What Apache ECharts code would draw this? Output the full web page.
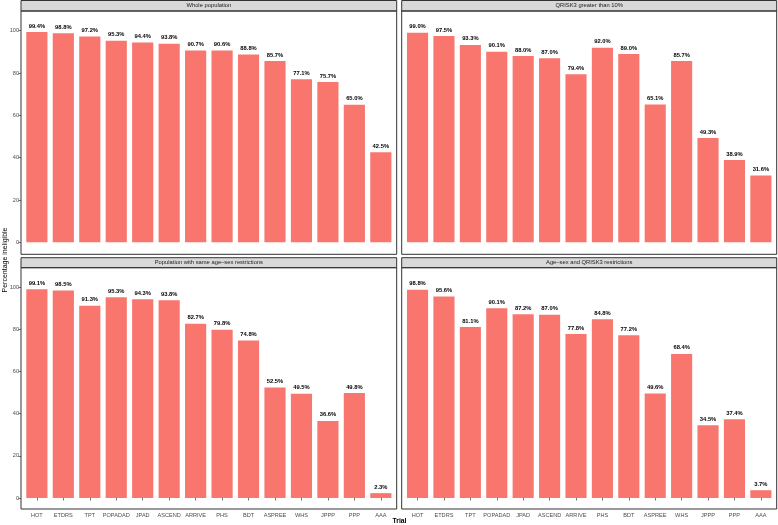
<!DOCTYPE html>
<html>
<head>
<meta charset="utf-8">
<script src="https://cdn.jsdelivr.net/npm/echarts@6/dist/echarts.min.js"></script>
<style>
  html, body { margin: 0; padding: 0; background: #fff; }
  #chart { width: 778px; height: 525px; }
</style>
</head>
<body>
<div id="chart"></div>
<script>
// categories and values
var trials = ['HOT', 'ETDRS', 'TPT', 'POPADAD', 'JPAD', 'ASCEND', 'ARRIVE', 'PHS', 'BDT', 'ASPREE', 'WHS', 'JPPP', 'PPP', 'AAA'];
var panelTitles = ['Whole population', 'QRISK3 greater than 10%', 'Population with same age\u2013sex restrictions', 'Age\u2013sex and QRISK3 restrictions'];
var wholePop = [99.4, 98.8, 97.2, 95.3, 94.4, 93.8, 90.7, 90.6, 88.8, 85.7, 77.1, 75.7, 65.0, 42.5];
var qrisk10 = [99.0, 97.5, 93.3, 90.1, 88.0, 87.0, 79.4, 92.0, 89.0, 65.1, 85.7, 49.3, 38.9, 31.6];
var ageSex = [99.1, 98.5, 91.3, 95.3, 94.3, 93.8, 82.7, 79.8, 74.8, 52.5, 49.5, 36.6, 49.8, 2.3];
var ageSexQrisk = [98.8, 95.6, 81.1, 90.1, 87.2, 87.0, 77.8, 84.8, 77.2, 49.6, 68.4, 34.5, 37.4, 3.7];
var yTitle = 'Percentage ineligible';
var xTitle = 'Trial';

var FONT = '"Liberation Sans", Arial, Helvetica, sans-serif';
var barColor = '#F8766D';

// panel frames (ggplot facet layout), in px
var cols = [{ x0: 21, x1: 396.7 }, { x0: 401.7, x1: 776.7 }];
var rows = [
  { s0: 0.5, s1: 11, p1: 254.3, y100: 30.7, y0: 242.3 },
  { s0: 257.7, s1: 267.7, p1: 509, y100: 287.3, y0: 498 }
];
var panelData = [wholePop, qrisk10, ageSex, ageSexQrisk];

var grids = [], xAxes = [], yAxes = [], series = [], graphics = [];

panelData.forEach(function (vals, i) {
  var r = rows[Math.floor(i / 2)], c = cols[i % 2];
  var isBottom = i >= 2, isLeft = i % 2 === 0;
  var w = c.x1 - c.x0;
  var band = w / 14.2; // discrete axis expanded by 0.6 each side
  grids.push({
    left: c.x0 + band * 0.1,
    width: band * 14,
    top: r.y100,
    height: r.y0 - r.y100
  });
  xAxes.push({
    type: 'category',
    gridIndex: i,
    data: trials,
    offset: r.p1 - r.y0,
    axisLine: { show: false },
    axisTick: { show: isBottom, alignWithLabel: true, length: 2.5, lineStyle: { color: '#333', width: 0.7 } },
    axisLabel: { show: isBottom, interval: 0, margin: 3, fontSize: 5.6, color: '#4D4D4D', fontFamily: FONT },
    splitLine: { show: false }
  });
  yAxes.push({
    type: 'value',
    gridIndex: i,
    min: 0,
    max: 100,
    interval: 20,
    offset: band * 0.1,
    axisLine: { show: false },
    axisTick: { show: isLeft, length: 2.5, lineStyle: { color: '#333', width: 0.7 } },
    axisLabel: { show: isLeft, margin: 2, fontSize: 5.6, color: '#4D4D4D', fontFamily: FONT },
    splitLine: { show: false }
  });
  series.push({
    type: 'bar',
    xAxisIndex: i,
    yAxisIndex: i,
    data: vals,
    barWidth: '80%',
    itemStyle: { color: barColor },
    label: {
      show: true,
      position: 'top',
      distance: 3,
      fontSize: 5.8,
      fontWeight: 'bold',
      color: '#000',
      fontFamily: FONT,
      formatter: function (p) { return p.value.toFixed(1) + '%'; }
    },
    silent: true,
    animation: false
  });
  // strip
  graphics.push({
    type: 'rect',
    shape: { x: c.x0, y: r.s0, width: w, height: r.s1 - r.s0 },
    style: { fill: '#D9D9D9', stroke: '#333', lineWidth: 1 }
  });
  graphics.push({
    type: 'text',
    x: (c.x0 + c.x1) / 2,
    y: (r.s0 + r.s1) / 2,
    style: { text: panelTitles[i], fill: '#1A1A1A', font: '5.8px ' + FONT, align: 'center', verticalAlign: 'middle' }
  });
  // panel border
  graphics.push({
    type: 'rect',
    shape: { x: c.x0, y: r.s1, width: w, height: r.p1 - r.s1 },
    style: { fill: 'none', stroke: '#333', lineWidth: 1 },
    z: 10
  });
});

graphics.push({
  type: 'text',
  x: 5,
  y: 260,
  rotation: Math.PI / 2,
  style: { text: yTitle, fill: '#000', font: '7px ' + FONT, align: 'center', verticalAlign: 'middle' }
});
graphics.push({
  type: 'text',
  x: 399.5,
  y: 521,
  style: { text: xTitle, fill: '#000', font: 'bold 6.8px ' + FONT, align: 'center', verticalAlign: 'middle' }
});

var chart = echarts.init(document.getElementById('chart'), null, { renderer: 'canvas' });
chart.setOption({
  backgroundColor: '#fff',
  animation: false,
  grid: grids,
  xAxis: xAxes,
  yAxis: yAxes,
  series: series,
  graphic: graphics
});
</script>
</body>
</html>
